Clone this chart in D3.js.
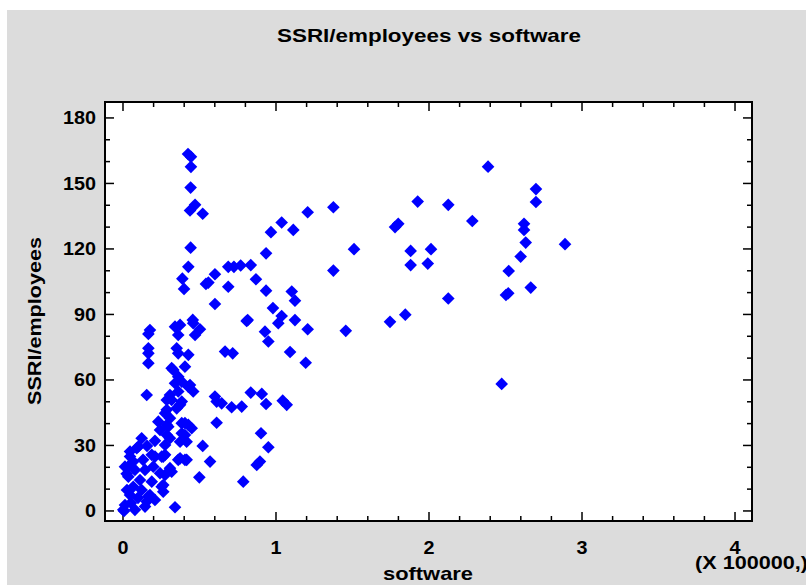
<!DOCTYPE html>
<html>
<head>
<meta charset="utf-8">
<script src="https://cdn.jsdelivr.net/npm/d3@7"></script>
<style>
  body { margin: 0; background: #fff; }
  svg { display: block; font-family: "Liberation Sans", Arial, sans-serif; }
</style>
</head>
<body>
<div id="chart"></div>
<script>
// software in units of 100000, SSRI/employees
const software = [
  0.425, 0.444, 0.444, 0.442, 0.471, 0.438, 0.521, 0.442, 0.427, 0.388,
  0.399, 0.542, 0.558, 0.601, 0.688, 0.688, 0.725, 0.769, 0.835, 0.869,
  0.935, 0.601, 0.815, 0.980, 1.037, 1.015, 0.935, 0.967, 1.037, 1.113,
  1.103, 1.124, 1.124, 1.207, 1.375, 1.510, 1.375, 1.778, 1.799, 1.926,
  2.126, 2.283, 1.880, 2.013, 1.880, 1.992, 2.126, 1.207, 1.456, 1.745,
  1.845, 1.092, 1.194, 1.044, 1.070, 2.386, 2.699, 2.699, 2.621, 2.621,
  2.632, 2.889, 2.599, 2.521, 2.665, 2.503, 2.518, 2.475,
  0.176, 0.166, 0.340, 0.373, 0.361, 0.459, 0.471, 0.503, 0.456, 0.808,
  0.928, 0.950, 0.166, 0.166, 0.166, 0.351, 0.361, 0.427, 0.667, 0.717,
  0.318, 0.405, 0.361, 0.340, 0.384, 0.155, 0.438, 0.459, 0.307, 0.286,
  0.373, 0.351, 0.601, 0.645, 0.710, 0.776, 0.835, 0.907, 0.935, 0.275,
  0.307, 0.231, 0.384, 0.427, 0.449, 0.296, 0.286, 0.612, 0.384, 0.405,
  0.307, 0.275, 0.122, 0.090, 0.521, 0.902, 0.950, 0.046, 0.035, 0.024,
  0.067, 0.188, 0.253, 0.275, 0.373, 0.405, 0.569, 0.874, 0.895, 0.318,
  0.275, 0.499, 0.786, 0.253, 0.263, 0.209, 0.340, 0.176, 0.155,
  0.100, 0.046, 0.013, 0.035, 0.067, 0.046, 0.013, 0.002, 0.078, 0.144,
  0.165, 0.122, 0.188, 0.144, 0.198, 0.209, 0.242,
  0.329, 0.427, 0.361, 0.318, 0.384, 0.286, 0.612,
  0.286, 0.405, 0.373, 0.416, 0.263, 0.361, 0.416, 0.307, 0.263,
  0.007, 0.052, 0.098, 0.026, 0.111, 0.078, 0.131, 0.157, 0.209, 0.242
];
const ssriPerEmployee = [
  163.5, 162.2, 157.6, 148.1, 140.2, 137.6, 136.1, 120.6, 111.8, 106.4,
  101.7, 104.0, 104.6, 108.4, 102.7, 111.8, 111.8, 112.4, 112.6, 106.1,
  100.9, 94.8, 87.4, 92.9, 89.3, 86.0, 118.0, 127.7, 132.1, 128.7,
  100.5, 96.3, 87.4, 136.8, 139.1, 119.9, 110.1, 130.0, 131.5, 141.7,
  140.2, 132.8, 119.1, 119.9, 112.6, 113.3, 97.3, 83.2, 82.5, 86.6,
  89.9, 72.8, 67.9, 50.5, 48.6, 157.7, 147.4, 141.5, 131.5, 128.7,
  122.9, 122.2, 116.5, 109.9, 102.3, 98.9, 99.7, 58.2,
  82.9, 81.1, 84.4, 85.2, 80.6, 86.0, 80.6, 83.2, 87.5, 87.0,
  82.1, 77.6, 74.5, 72.2, 67.7, 74.5, 72.2, 71.5, 73.0, 72.2,
  65.4, 66.1, 61.5, 58.5, 59.2, 53.1, 57.7, 54.7, 53.1, 50.8,
  48.6, 47.0, 52.4, 49.3, 47.5, 47.8, 54.2, 53.6, 49.0, 44.8,
  42.5, 40.9, 40.2, 39.4, 37.9, 38.6, 34.8, 40.4, 35.6, 34.8,
  33.3, 30.2, 33.3, 28.7, 29.8, 35.6, 29.2, 24.9, 20.3, 17.0,
  22.6, 25.7, 24.9, 25.7, 24.1, 23.4, 22.6, 21.1, 22.6, 18.0,
  16.5, 15.4, 13.4, 11.1, 8.8, 5.0, 1.7, 7.3, 4.3,
  29.5, 27.2, 20.3, 15.7, 11.1, 7.3, 2.7, 0.5, 0.5, 2.0,
  6.6, 9.6, 13.4, 18.8, 20.3, 24.9, 17.3,
  64.6, 56.9, 54.7, 50.8, 50.1, 46.3, 50.1,
  39.4, 40.2, 31.7, 31.7, 24.9, 23.4, 23.4, 19.6, 11.9,
  0.0, 3.7, 6.0, 9.6, 14.2, 18.8, 23.4, 29.8, 32.1, 37.1
];
const xTicks = [0, 1, 2, 3, 4];
const yTicks = [0, 30, 60, 90, 120, 150, 180];
const title = "SSRI/employees vs software";
const xTitle = "software";
const yTitle = "SSRI/employees";
const xMultiplier = "(X 100000,)";

const W = 806, H = 585;
const frame = { left: 105, right: 752, top: 102, bottom: 521 };

const svg = d3.select("#chart").append("svg").attr("width", W).attr("height", H);

svg.append("rect").attr("x", 7).attr("y", 10).attr("width", W - 7).attr("height", H - 10)
  .attr("fill", "#dcdcdc");

let x = d3.scaleLinear().domain([-0.1176, 4.111]).range([frame.left, frame.right]);
let y = d3.scaleLinear().domain([-4.6, 187.3]).range([frame.bottom, frame.top]);

svg.append("rect")
  .attr("x", frame.left).attr("y", frame.top)
  .attr("width", frame.right - frame.left).attr("height", frame.bottom - frame.top)
  .attr("fill", "#fff");

// ticks on all four sides, pointing inward
let xMinor = d3.range(0, 4.01, 0.2);
let yMinor = d3.range(0, 181, 10);
let tickG = svg.append("g").attr("stroke", "#000").attr("stroke-width", 1.5);

xMinor.forEach(v => {
  let len = Math.abs(v - Math.round(v)) < 1e-6 ? 9 : 5;
  tickG.append("line").attr("x1", x(v)).attr("x2", x(v))
    .attr("y1", frame.bottom).attr("y2", frame.bottom - len);
  tickG.append("line").attr("x1", x(v)).attr("x2", x(v))
    .attr("y1", frame.top).attr("y2", frame.top + len);
});
yMinor.forEach(v => {
  let len = v % 30 === 0 ? 9 : 5;
  tickG.append("line").attr("y1", y(v)).attr("y2", y(v))
    .attr("x1", frame.left).attr("x2", frame.left + len);
  tickG.append("line").attr("y1", y(v)).attr("y2", y(v))
    .attr("x1", frame.right).attr("x2", frame.right - len);
});

// points
let diamond = d3.symbol().type(d3.symbolSquare).size(80);
svg.append("g").selectAll("path")
  .data(software.map((s, i) => [s, ssriPerEmployee[i]]))
  .join("path")
  .attr("d", diamond)
  .attr("transform", d => `translate(${x(d[0])},${y(d[1])}) rotate(45)`)
  .attr("fill", "#0000ff");

svg.append("rect")
  .attr("x", frame.left).attr("y", frame.top)
  .attr("width", frame.right - frame.left).attr("height", frame.bottom - frame.top)
  .attr("fill", "none").attr("stroke", "#000").attr("stroke-width", 2);

// tick labels (the reference glyphs are a bit wider than Liberation's)
svg.append("g").selectAll("text").data(xTicks).join("text")
  .attr("x", d => x(d)).attr("y", 554)
  .attr("text-anchor", "middle")
  .attr("font-size", 18).attr("font-weight", "bold")
  .attr("textLength", d => String(d).length * 11).attr("lengthAdjust", "spacingAndGlyphs")
  .text(d => d);

svg.append("g").selectAll("text").data(yTicks).join("text")
  .attr("x", 96).attr("y", d => y(d) + 6.5)
  .attr("text-anchor", "end")
  .attr("font-size", 18).attr("font-weight", "bold")
  .attr("textLength", d => String(d).length * 11).attr("lengthAdjust", "spacingAndGlyphs")
  .text(d => d);

svg.append("text").attr("x", 429).attr("y", 42)
  .attr("text-anchor", "middle").attr("font-size", 19).attr("font-weight", "bold")
  .attr("textLength", 304).attr("lengthAdjust", "spacingAndGlyphs")
  .text(title);

svg.append("text").attr("x", 428).attr("y", 580)
  .attr("text-anchor", "middle").attr("font-size", 19).attr("font-weight", "bold")
  .attr("textLength", 90).attr("lengthAdjust", "spacingAndGlyphs")
  .text(xTitle);

svg.append("text")
  .attr("transform", "translate(41,321) rotate(-90)")
  .attr("text-anchor", "middle").attr("font-size", 19).attr("font-weight", "bold")
  .attr("textLength", 168).attr("lengthAdjust", "spacingAndGlyphs")
  .text(yTitle);

svg.append("text").attr("x", 695).attr("y", 569)
  .attr("font-size", 18).attr("font-weight", "bold")
  .attr("textLength", 113).attr("lengthAdjust", "spacingAndGlyphs")
  .text(xMultiplier);
</script>
</body>
</html>
